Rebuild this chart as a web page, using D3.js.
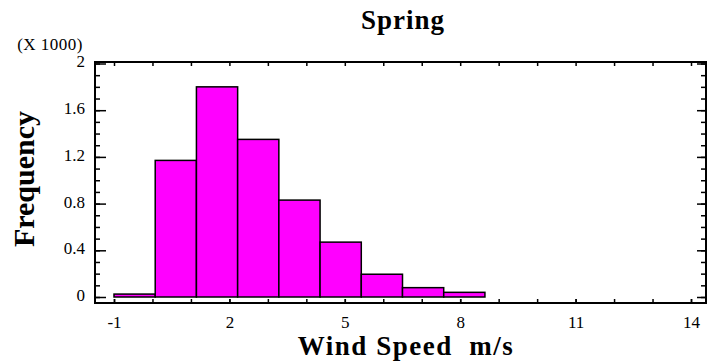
<!DOCTYPE html>
<html>
<head>
<meta charset="utf-8">
<script src="https://cdn.jsdelivr.net/npm/d3@7"></script>
<style>
    body { margin: 0; background: #fff; }
    svg { display: block; font-family: 'Liberation Serif', 'Times New Roman', serif; }
</style>
</head>
<body>
<div class="hist-component"></div>
<script>
// histogram counts, 14 equal bins between binLow and binHigh
const binLow = -1;
const binHigh = 14;
const counts = [25, 1170, 1800, 1350, 830, 470, 195, 80, 40, 0, 0, 0, 0, 0];

const xTickLabels = [-1, 2, 5, 8, 11, 14];
const xMinorTicks = d3.range(-1, 15, 1);
const yTickLabels = [0, 0.4, 0.8, 1.2, 1.6, 2];
const yMinorTicks = d3.range(0, 21).map(d => d / 10);

const title = 'Spring';
const xTitle = 'Wind Speed  m/s';
const yTitle = 'Frequency';
const yMultiplier = '(X 1000)';

let container = document.querySelector('.hist-component');
let svg = d3.select(container)
    .append('svg')
    .attr('width', 711)
    .attr('height', 363);

let frame = { left: 95, top: 62, right: 706, bottom: 303 };

let x = d3.scaleLinear().domain([-1, 14]).range([114, 691]);
let y = d3.scaleLinear().domain([0, 2]).range([297, 63.5]);

let binW = (binHigh - binLow) / counts.length;
let bins = counts.map((c, i) => ({ x0: binLow + i * binW, x1: binLow + (i + 1) * binW, count: c }));

// bars
svg.append('g')
    .selectAll('rect')
    .data(bins)
    .enter()
    .append('rect')
    .attr('x', d => x(d.x0))
    .attr('width', d => x(d.x1) - x(d.x0))
    .attr('y', d => y(d.count / 1000))
    .attr('height', d => y(0) - y(d.count / 1000))
    .attr('fill', '#ff00ff')
    .attr('stroke', '#000')
    .attr('stroke-width', 1.5);

// axes (ticks point inward)
let axisStyle = g => {
    g.select('.domain').remove();
    g.selectAll('line').attr('stroke', '#000').attr('stroke-width', 1.5);
    g.selectAll('text').attr('font-size', 17).attr('fill', '#000')
        .attr('font-family', "'Liberation Serif', 'Times New Roman', serif");
};
let plain = d => String(d);

svg.append('g')
    .attr('transform', `translate(${frame.left}, 0)`)
    .call(d3.axisLeft(y).tickValues(yMinorTicks).tickSize(-5).tickFormat(''))
    .call(axisStyle);
svg.append('g')
    .attr('transform', `translate(${frame.left}, 0)`)
    .call(d3.axisLeft(y).tickValues(yTickLabels).tickSizeInner(-11).tickPadding(10).tickFormat(plain))
    .call(axisStyle)
    .selectAll('text').attr('dy', '0.2em');

svg.append('g')
    .attr('transform', `translate(${frame.right}, 0)`)
    .call(d3.axisRight(y).tickValues(yMinorTicks).tickSize(-5).tickFormat(''))
    .call(axisStyle);
svg.append('g')
    .attr('transform', `translate(${frame.right}, 0)`)
    .call(d3.axisRight(y).tickValues(yTickLabels).tickSize(-9).tickFormat(''))
    .call(axisStyle);

svg.append('g')
    .attr('transform', `translate(0, ${frame.bottom})`)
    .call(d3.axisBottom(x).tickValues(xMinorTicks).tickSize(-4).tickFormat(''))
    .call(axisStyle);
svg.append('g')
    .attr('transform', `translate(0, ${frame.bottom})`)
    .call(d3.axisBottom(x).tickValues(xTickLabels).tickSizeInner(-4).tickPadding(13).tickFormat(plain))
    .call(axisStyle);

svg.append('g')
    .attr('transform', `translate(0, ${frame.top})`)
    .call(d3.axisTop(x).tickValues(xMinorTicks).tickSize(-4).tickFormat(''))
    .call(axisStyle);

// frame
svg.append('rect')
    .attr('x', frame.left)
    .attr('y', frame.top)
    .attr('width', frame.right - frame.left)
    .attr('height', frame.bottom - frame.top)
    .attr('fill', 'none')
    .attr('stroke', '#000')
    .attr('stroke-width', 2);

// titles
svg.append('text')
    .attr('x', 403).attr('y', 29)
    .attr('text-anchor', 'middle')
    .attr('font-size', 27).attr('font-weight', 'bold')
    .attr('letter-spacing', 1)
    .text(title);

svg.append('text')
    .attr('x', 406).attr('y', 355)
    .attr('text-anchor', 'middle')
    .attr('font-size', 27).attr('font-weight', 'bold')
    .attr('letter-spacing', 1.5)
    .style('white-space', 'pre')
    .text(xTitle);

svg.append('text')
    .attr('transform', 'translate(34, 179) rotate(-90)')
    .attr('text-anchor', 'middle')
    .attr('font-size', 30).attr('font-weight', 'bold')
    .text(yTitle);

svg.append('text')
    .attr('x', 83).attr('y', 50)
    .attr('text-anchor', 'end')
    .attr('font-size', 17)
    .attr('letter-spacing', 0.5)
    .text(yMultiplier);
</script>
</body>
</html>
